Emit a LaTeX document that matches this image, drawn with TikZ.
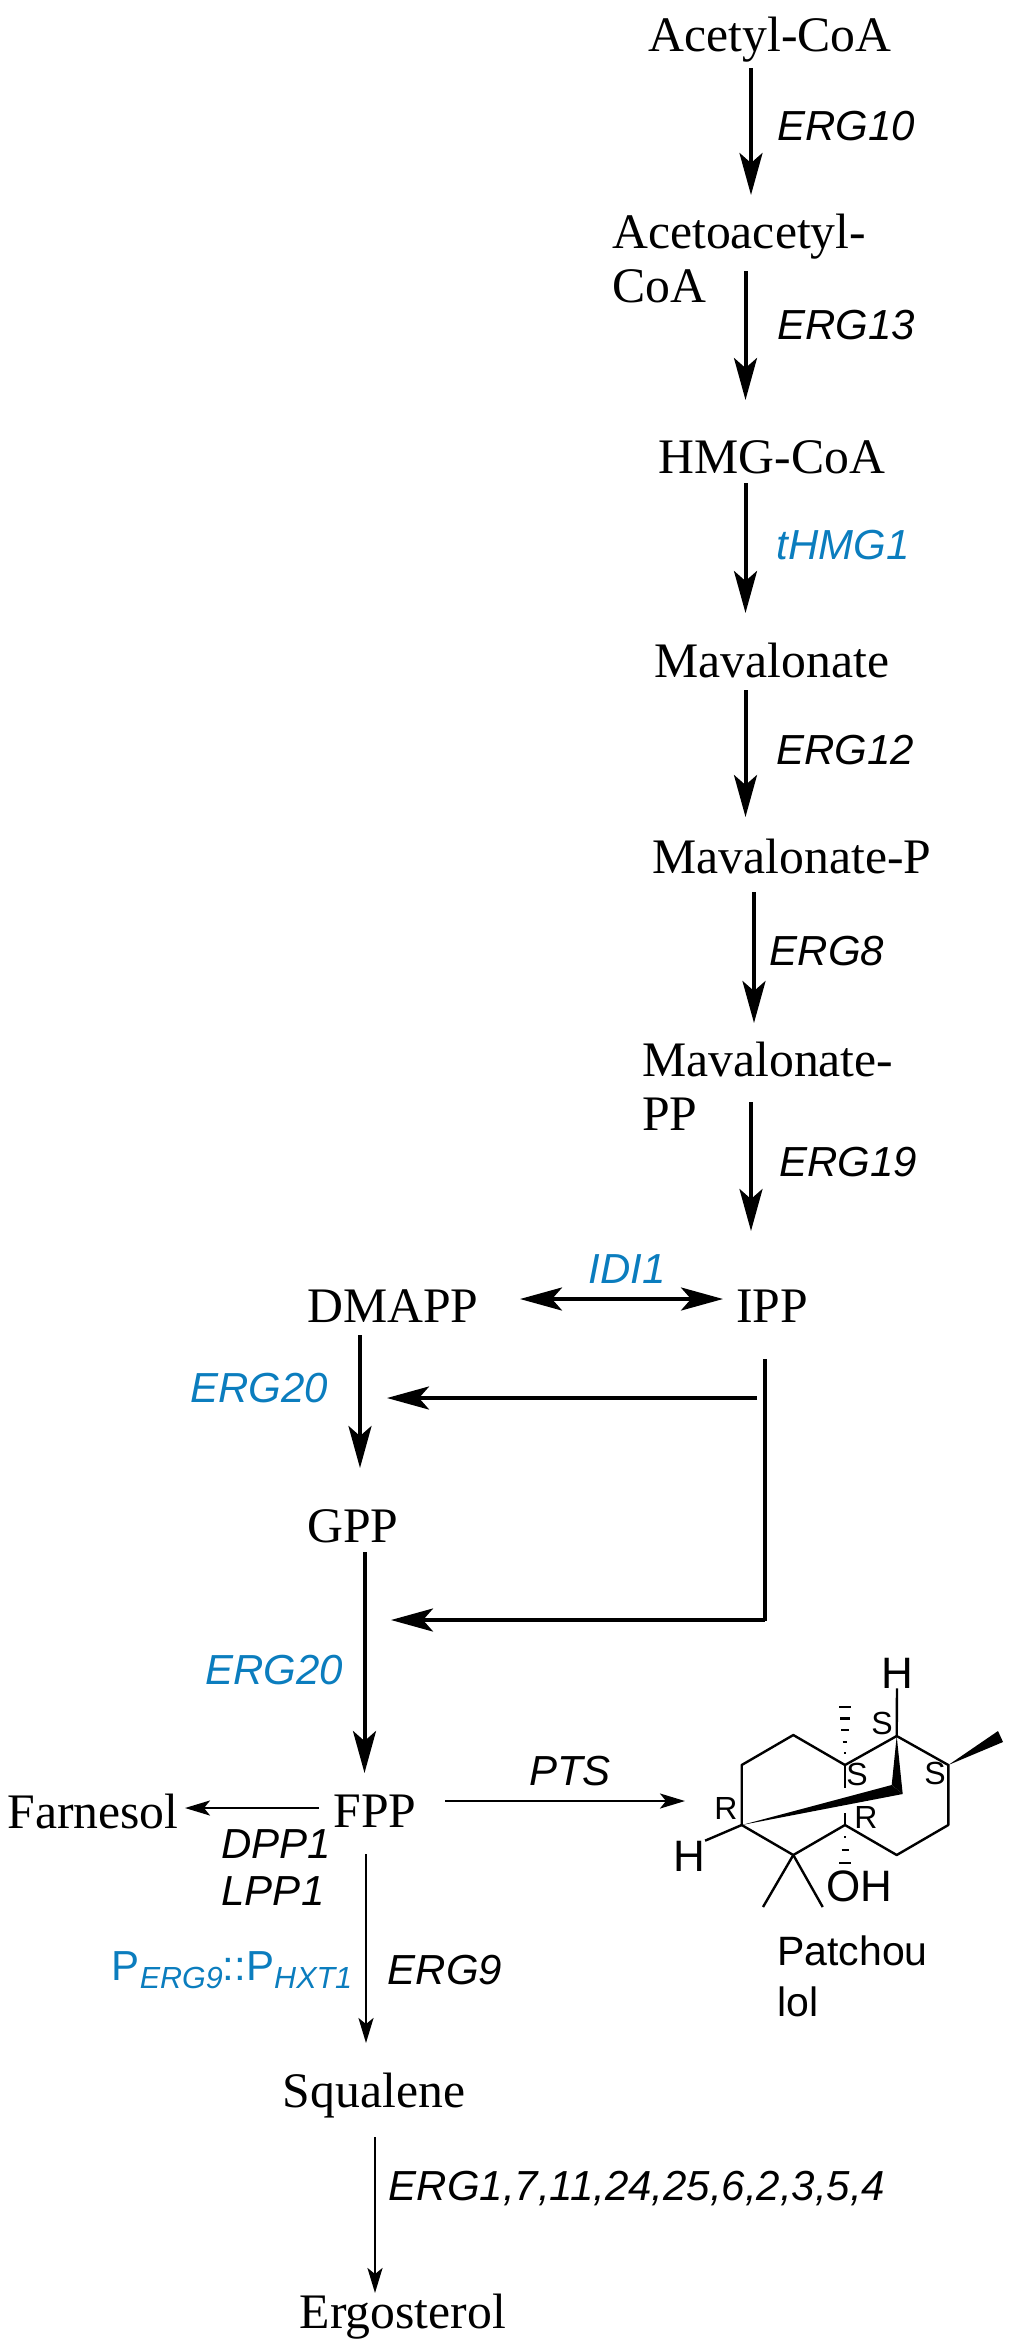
\documentclass[tikz,border=0pt]{standalone}
\usepackage{fontspec}
\setmainfont{Liberation Serif}
\setsansfont{Liberation Sans}
\usetikzlibrary{arrows.meta}
\definecolor{geneblue}{HTML}{0B7DBE}
\newcommand{\subgene}[1]{\raisebox{-8pt}{\fontsize{30.5}{30}\selectfont\itshape #1}}
\tikzset{
  met/.style={inner sep=0pt, font=\fontsize{49.7}{54}\selectfont},
  gene/.style={inner sep=0pt, font=\fontsize{42}{46}\selectfont\sffamily\itshape},
  bluegene/.style={gene, color=geneblue},
  bigarrow/.style={line width=4pt, -{Stealth[length=42pt,width=23pt,inset=10pt]}},
  thinarrow/.style={line width=2.5pt, -{Stealth[length=25pt,width=15pt,inset=6pt]}},
  bond/.style={line width=2.4pt},
  atom/.style={inner sep=0pt, font=\fontsize{44}{46}\selectfont\sffamily},
  stereo/.style={inner sep=0pt, font=\fontsize{32}{32}\selectfont\sffamily},
}
\begin{document}
\begin{tikzpicture}[x=1pt, y=-1pt]
    \useasboundingbox (0,0) rectangle (1012,2351);
    % metabolites
    \node[met] (acetyl) at (770,40) {Acetyl-CoA};
    \node[met, align=left, anchor=west] (aceto) at (612,258) {Acetoacetyl-\\CoA};
    \node[met] (hmg) at (772,457) {HMG-CoA};
    \node[met] (mva) at (772,660) {Mavalonate};
    \node[met] (mvap) at (792,856) {Mavalonate-P};
    \node[met, align=left, anchor=west] (mvapp) at (642,1086) {Mavalonate-\\PP};
    \node[met] (ipp) at (772,1306) {IPP};
    \node[met] (dmapp) at (393,1306) {DMAPP};
    \node[met] (gpp) at (353,1526) {GPP};
    \node[met] (fpp) at (375,1811) {FPP};
    \node[met] (farnesol) at (93,1811) {Farnesol};
    \node[met] (squalene) at (374,2096) {Squalene};
    \node[met] (ergosterol) at (403,2317) {Ergosterol};
    % upper pathway
    \draw[bigarrow, shorten <=28pt, shorten >=63pt] (acetyl -| 751,0) -- (aceto -| 751,0);
    \draw[bigarrow, shorten <=13pt, shorten >=57pt] (aceto -| 745.5,0) -- (hmg -| 745.5,0);
    \draw[bigarrow, shorten <=26pt, shorten >=47pt] (hmg -| 745.5,0) -- (mva -| 745.5,0);
    \draw[bigarrow, shorten <=30pt, shorten >=39pt] (mva -| 745.5,0) -- (mvap -| 745.5,0);
    \draw[bigarrow, shorten <=36pt, shorten >=63pt] (mvap -| 754,0) -- (mvapp -| 754,0);
    \draw[bigarrow, shorten <=16pt, shorten >=75pt] (mvapp -| 751,0) -- (ipp -| 751,0);
    \node[gene] (erg10) at (846,126) {ERG10};
    \node[gene] (erg13) at (846,325) {ERG13};
    \node[bluegene] (thmg1) at (843,545) {tHMG1};
    \node[gene] (erg12) at (845,750) {ERG12};
    \node[gene] (erg8) at (827,951) {ERG8};
    \node[gene] (erg19) at (848,1162) {ERG19};
    % IPP branch
    \draw[bigarrow, {Stealth[length=42pt,width=23pt,inset=10pt]}-{Stealth[length=42pt,width=23pt,inset=10pt]}, shorten <=127pt, shorten >=49pt] (dmapp |- 0,1299) -- (ipp |- 0,1299);
    \node[bluegene] (idi1) at (627,1269) {IDI1};
    \coordinate (busend) at (765,1621);
    \coordinate (bustap1) at (757,1398);
    \coordinate (bustap2) at (765,1620);
    \coordinate (gppin1) at (387,1398);
    \coordinate (gppin2) at (391,1620);
    \draw[line width=4pt, shorten <=53pt] (ipp -| busend) -- (busend);
    \draw[bigarrow] (bustap1) -- (gppin1);
    \draw[bigarrow] (bustap2) -- (gppin2);
    \draw[bigarrow, shorten <=29pt, shorten >=58pt] (dmapp -| 360,0) -- (gpp -| 360,0);
    \draw[bigarrow, shorten <=26pt, shorten >=38pt] (gpp -| 364.5,0) -- (fpp -| 364.5,0);
    \node[bluegene] (erg20a) at (259,1388) {ERG20};
    \node[bluegene] (erg20b) at (274,1670) {ERG20};
    % lower pathway
    \coordinate (molin) at (685,1801);
    \draw[thinarrow, shorten <=56pt, shorten >=92pt] (fpp |- 0,1808) -- (farnesol |- 0,1808);
    \draw[thinarrow, shorten <=70pt] (fpp |- molin) -- (molin);
    \draw[thinarrow, shorten <=43pt, shorten >=53pt] (fpp -| 366,0) -- (squalene -| 366,0);
    \draw[thinarrow, shorten <=41pt, shorten >=24pt] (squalene -| 375,0) -- (ergosterol -| 375,0);
    \node[gene] (pts) at (570,1771) {PTS};
    \node[gene] (dpp1) at (276,1844) {DPP1};
    \node[gene] (lpp1) at (273,1891) {LPP1};
    \node[gene, color=geneblue, font=\fontsize{42}{46}\selectfont\sffamily] (promoter) at (232,1970) {P\subgene{ERG9}::P\subgene{HXT1}};
    \node[gene] (erg9) at (445,1970) {ERG9};
    \node[gene] (erglate) at (637,2188) {ERG1,7,11,24,25,6,2,3,5,4};
    % patchoulol skeleton
    \coordinate (c1) at (741.7,1825);
    \coordinate (c2) at (741.7,1765);
    \coordinate (c3) at (793.3,1735);
    \coordinate (c4) at (845,1765);
    \coordinate (c5) at (896.7,1736);
    \coordinate (c6) at (948.3,1765);
    \coordinate (c7) at (948.3,1825);
    \coordinate (c8) at (896.7,1855);
    \coordinate (c9) at (845,1825);
    \coordinate (c10) at (793.3,1855);
    \draw[bond, line join=round] (c1) -- (c2) -- (c3) -- (c4) -- (c5) -- (c6) -- (c7) -- (c8) -- (c9) -- (c10) -- (c1);
    \draw[bond] (c4) -- (845,1788);
    \draw[bond] (845,1813) -- (c9);
    \draw[bond] (c10) -- (763,1907);
    \draw[bond] (c10) -- (822.7,1907);
    \node[atom] (htop) at (897,1673) {H};
    \node[atom] (hleft) at (689,1856) {H};
    \node[atom] (oh) at (859,1886) {OH};
    \draw[bond] (c5) -- (htop.south);
    \draw[bond] (c1) -- (hleft.north east);
    % wedges
    \fill (c1) -- (891.7,1785) -- (902.7,1794) -- cycle;
    \fill (c5) -- (891.7,1785) -- (902.7,1794) -- cycle;
    \fill (c6) -- (998,1731) -- (1003,1742) -- cycle;
    % hashed bonds
    \foreach \ya/\wa in {1707/6, 1718.5/4.8, 1730/3.6, 1742/2.3, 1753/1}
        \draw[bond] (845-\wa,\ya) -- (845+\wa,\ya);
    \foreach \ya/\wa in {1837/1, 1850/3.5, 1863/6}
        \draw[bond] (845-\wa,\ya) -- (845+\wa,\ya);
    % stereo labels
    \node[stereo] (s1) at (882,1723) {S};
    \node[stereo] (s2) at (857,1774) {S};
    \node[stereo] (s3) at (935,1773) {S};
    \node[stereo] (r1) at (726,1808) {R};
    \node[stereo] (r2) at (866,1817) {R};
    \node[atom, font=\fontsize{41}{51}\selectfont\sffamily, align=left, anchor=west] (patch) at (777,1976) {Patchou\\lol};
\end{tikzpicture}
\end{document}
